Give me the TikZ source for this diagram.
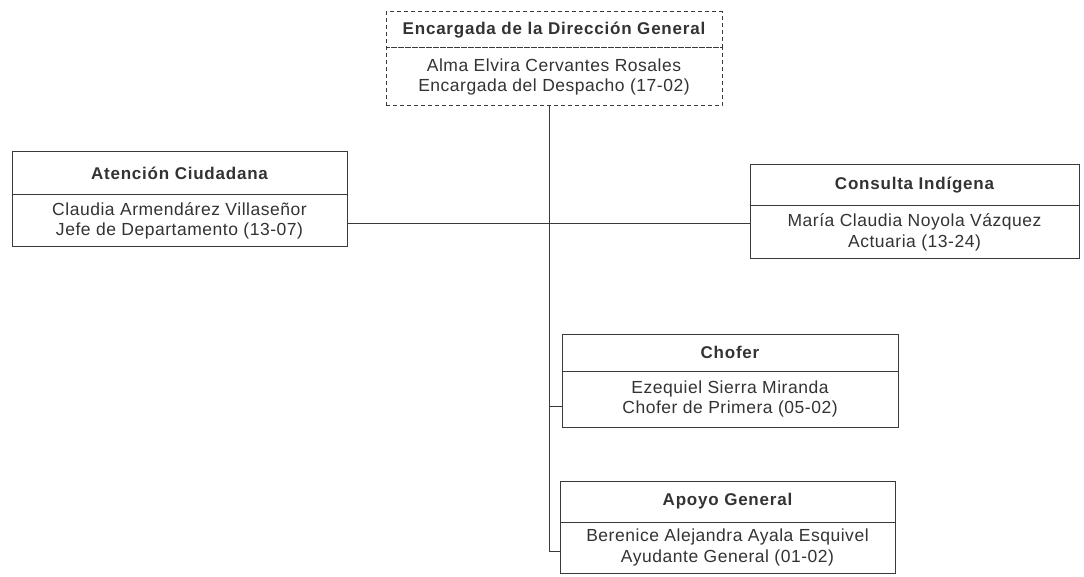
\documentclass[tikz,border=0pt]{standalone}
\usepackage{fontspec}
\setmainfont{Liberation Sans}
\newfontfamily\hfont[LetterSpace=4.6]{Liberation Sans Bold}
\newfontfamily\bfont[LetterSpace=3]{Liberation Sans}
\definecolor{txt}{HTML}{333333}
\definecolor{ln}{HTML}{3A3A3A}
\begin{document}
\begin{tikzpicture}[x=1pt,y=-1pt,
  hdr/.style={draw=ln,line width=1pt,minimum width=#1,inner sep=0pt,align=center,
    text=txt,font=\hfont\fontsize{17}{20}\selectfont},
  bdy/.style={draw=ln,line width=1pt,minimum width=#1,inner sep=0pt,align=center,
    text=txt,font=\bfont\fontsize{17.5}{20.5}\selectfont},
  dsh/.style={dash pattern=on 4pt off 3pt},
  conn/.style={draw=ln,line width=1pt}]
\useasboundingbox (0,0) rectangle (1084,577);
\fill[white] (0,0) rectangle (1084,577);
% top
\node[hdr=336pt,minimum height=36pt,dsh] (th) at (554,30) {Encargada de la Dirección General};
\node[bdy=336pt,minimum height=58pt,dsh] (tb) at (554,77) {Alma Elvira Cervantes Rosales\\Encargada del Despacho (17-02)};
% left
\node[hdr=335pt,minimum height=43pt] (lh) at (179.5,173.5) {Atención Ciudadana};
\node[bdy=335pt,minimum height=52pt] (lb) at (179.5,221) {Claudia Armendárez Villaseñor\\Jefe de Departamento (13-07)};
% right
\node[hdr=329pt,minimum height=41pt] (rh) at (914.5,185.5) {Consulta Indígena};
\node[bdy=329pt,minimum height=53pt] (rb) at (914.5,232.5) {María Claudia Noyola Vázquez\\Actuaria (13-24)};
% chofer
\node[hdr=336pt,minimum height=37pt] (ch) at (730,352.5) {Chofer};
\node[bdy=336pt,minimum height=56pt] (cb) at (730,399) {Ezequiel Sierra Miranda\\Chofer de Primera (05-02)};
% apoyo
\node[hdr=335pt,minimum height=41pt] (ah) at (727.5,501.5) {Apoyo General};
\node[bdy=335pt,minimum height=51pt] (ab) at (727.5,547.5) {Berenice Alejandra Ayala Esquivel\\Ayudante General (01-02)};
% connectors
\coordinate (t0) at (549,106);
\coordinate (cj) at (549,406);
\coordinate (aj) at (549,551);
\draw[conn] ([yshift=-3pt]lb.east) -- ([yshift=-3pt]lb.east -| rb.west);
\draw[conn] (t0) -- (aj) -- (aj -| ab.west);
\draw[conn] (cj) -- (cj -| cb.west);
\end{tikzpicture}
\end{document}
